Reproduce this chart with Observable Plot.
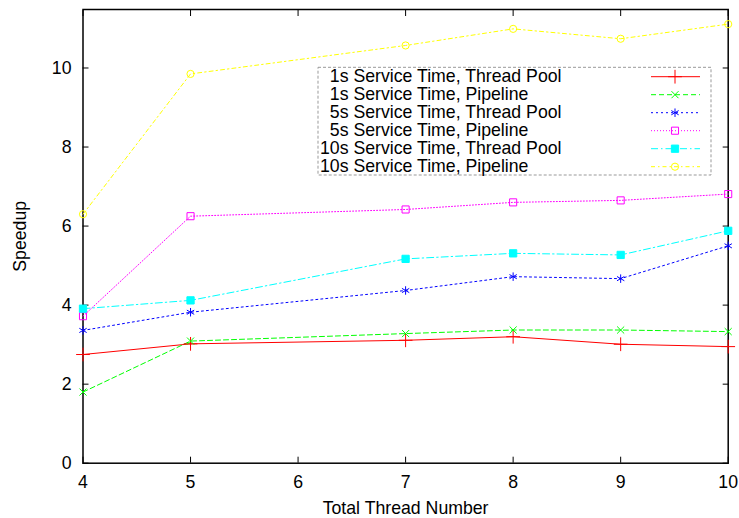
<!DOCTYPE html>
<html>
<head>
<meta charset="utf-8">
<script src="https://cdn.jsdelivr.net/npm/d3@7"></script>
<script src="https://cdn.jsdelivr.net/npm/@observablehq/plot@0.6"></script>
<style>
  html, body { margin: 0; padding: 0; background: #fff; }
  #chart svg { display: block; }
</style>
</head>
<body>
<div id="chart"></div>
<script>
// ---- data ----
const threads = [4, 5, 7, 8, 9, 10];
const seriesNames = [
  "1s Service Time, Thread Pool",
  "1s Service Time, Pipeline",
  "5s Service Time, Thread Pool",
  "5s Service Time, Pipeline",
  "10s Service Time, Thread Pool",
  "10s Service Time, Pipeline"
];
const tp1  = [2.75, 3.02, 3.11, 3.20, 3.01, 2.95];
const pl1  = [1.80, 3.09, 3.28, 3.37, 3.37, 3.33];
const tp5  = [3.36, 3.82, 4.37, 4.72, 4.67, 5.50];
const pl5  = [3.72, 6.25, 6.42, 6.60, 6.65, 6.81];
const tp10 = [3.91, 4.12, 5.17, 5.31, 5.27, 5.88];
const pl10 = [6.30, 9.85, 10.57, 10.99, 10.74, 11.11];
const xTicks = [4, 5, 6, 7, 8, 9, 10];
const yTicks = [0, 2, 4, 6, 8, 10];
const xLabel = "Total Thread Number";
const yLabel = "Speedup";

// ---- styles ----
const seriesValues = [tp1, pl1, tp5, pl5, tp10, pl10];
const colors = ["#ff0000", "#00ff00", "#0000ff", "#ff00ff", "#00ffff", "#ffff00"];
const dashes = [null, "5,3", "2,3", "1,2", "7,3,1.5,3", "4,3,1.5,3"];
const symbols = ["plus", "times", "asterisk", "square", "square", "circle"];
const symbolTypes = [d3.symbolPlus, d3.symbolTimes, d3.symbolAsterisk, d3.symbolSquare, d3.symbolSquare, d3.symbolCircle];
const radii = [4.5, 3.3, 4.0, 4.0, 4.1, 3.6];
const filled = [false, false, false, false, true, false];
const FONT = "17.7px";

const rows = seriesValues.flatMap((vals, s) =>
  vals.map((v, i) => ({s, name: seriesNames[s], x: threads[i], y: v}))
);

function legend(index, scales, values, dims) {
  const g = d3.create("svg:g")
    .attr("font-family", "'Liberation Sans', Arial, sans-serif")
    .attr("font-size", FONT)
    .attr("text-anchor", "start");
  const right = dims.width - dims.marginRight - 16.7;
  const top = dims.marginTop + 58.3;
  const boxW = 393, boxH = 107.7, rowH = 18, firstRow = 9.4;
  const left = right - boxW;
  g.append("rect")
    .attr("x", left).attr("y", top).attr("width", boxW).attr("height", boxH)
    .attr("fill", "none").attr("stroke", "#999").attr("stroke-width", 1)
    .attr("stroke-dasharray", "3,2");
  seriesNames.forEach((name, i) => {
    const cy = top + firstRow + i * rowH;
    const oneDigit = /^\d[a-z]/.test(name);
    g.append("text")
      .attr("x", left + 2).attr("y", cy).attr("dy", "0.32em")
      .attr("dx", oneDigit ? "0.556em" : 0)
      .attr("text-anchor", "start")
      .attr("fill", "black")
      .text(name);
    g.append("line")
      .attr("x1", right - 60).attr("x2", right - 11)
      .attr("y1", cy).attr("y2", cy)
      .attr("stroke", colors[i]).attr("stroke-width", 1)
      .attr("stroke-dasharray", dashes[i]);
    g.append("path")
      .attr("transform", `translate(${right - 36},${cy})`)
      .attr("d", d3.symbol(symbolTypes[i], radii[i] * radii[i] * Math.PI)())
      .attr("fill", filled[i] ? colors[i] : "none")
      .attr("stroke", colors[i]).attr("stroke-width", 1);
  });
  return g.node();
}

const marks = [
  Plot.frame({stroke: "black", strokeWidth: 1.5}),
  Plot.axisX({ticks: xTicks, tickSize: -6, tickPadding: 18.6, tickFormat: d3.format("d"), label: null}),
  Plot.axisX({anchor: "top", ticks: xTicks, tickSize: -6, tickFormat: () => "", label: null}),
  Plot.axisY({ticks: yTicks, tickSize: -6, tickPadding: 17.5, tickFormat: d3.format("d"), label: null}),
  Plot.axisY({anchor: "right", ticks: yTicks, tickSize: -6, tickFormat: () => "", label: null})
];
seriesNames.forEach((name, s) => {
  const data = rows.filter(d => d.s === s);
  marks.push(Plot.line(data, {
    x: "x", y: "y", stroke: colors[s], strokeWidth: 1,
    strokeDasharray: dashes[s] || undefined
  }));
});
seriesNames.forEach((name, s) => {
  const data = rows.filter(d => d.s === s);
  marks.push(Plot.dot(data, {
    x: "x", y: "y", symbol: symbols[s], r: radii[s],
    stroke: colors[s], strokeWidth: 1,
    fill: filled[s] ? colors[s] : "none"
  }));
});
marks.push(Plot.text([xLabel], {text: d => d, frameAnchor: "bottom", dy: 50.6, fill: "black"}));
marks.push(Plot.text([yLabel], {text: d => d, frameAnchor: "left", textAnchor: "middle", rotate: -90, dx: -63, fill: "black"}));
marks.push(legend);

const chart = Plot.plot({
  width: 739,
  height: 518,
  marginLeft: 82.5,
  marginRight: 11.3,
  marginTop: 9,
  marginBottom: 55.3,
  style: {fontFamily: "'Liberation Sans', Arial, sans-serif", fontSize: FONT, color: "black", background: "white"},
  x: {domain: [4, 10], label: null},
  y: {domain: [0, 11.48], label: null},
  marks
});
document.getElementById("chart").appendChild(chart);
</script>
</body>
</html>
